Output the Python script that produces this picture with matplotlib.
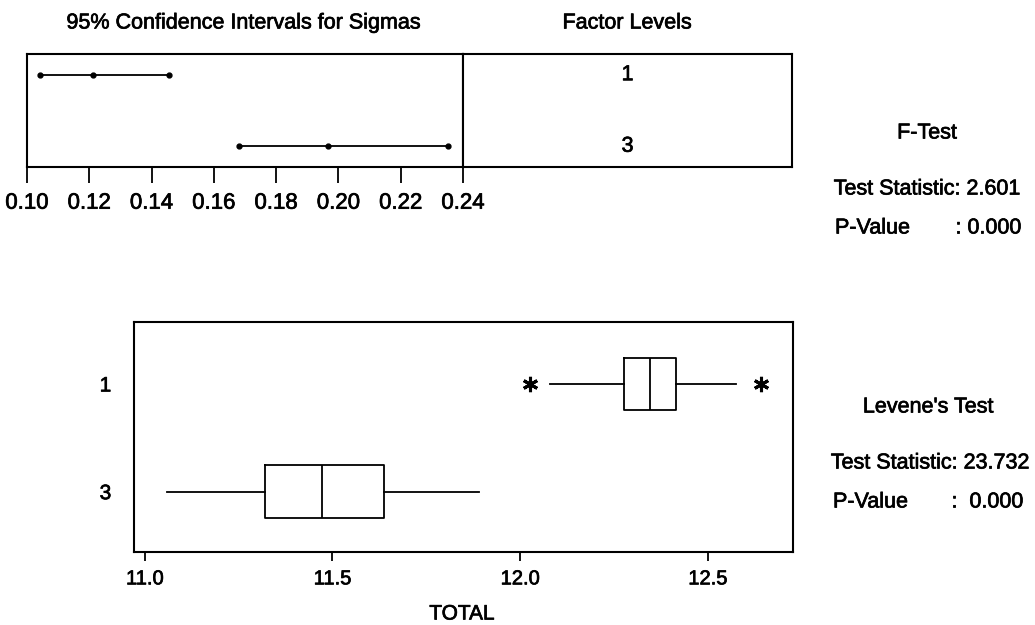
import matplotlib
matplotlib.use("Agg")
import matplotlib.pyplot as plt
import matplotlib.patheffects as pe

plt.rcParams['font.family'] = ['Liberation Sans', 'DejaVu Sans']

# ---- data -------------------------------------------------------------
levels = ["1", "3"]

# 95% confidence intervals for sigma (lower, estimate, upper)
sigma_lower = [0.1043, 0.1682]
sigma_est = [0.1212, 0.1968]
sigma_upper = [0.1455, 0.2353]
ci_ticks = [0.10, 0.12, 0.14, 0.16, 0.18, 0.20, 0.22, 0.24]
ci_tick_labels = ["0.10", "0.12", "0.14", "0.16", "0.18", "0.20", "0.22", "0.24"]

# Boxplot summary of TOTAL by factor level
box_whislo = [12.080, 11.059]
box_q1 = [12.277, 11.321]
box_med = [12.347, 11.471]
box_q3 = [12.416, 11.638]
box_whishi = [12.575, 11.890]
box_fliers = [[12.027, 12.643], []]
total_ticks = [11.0, 11.5, 12.0, 12.5]
total_tick_labels = ["11.0", "11.5", "12.0", "12.5"]

f_stat, f_p = 2.601, 0.000
lev_stat, lev_p = 23.732, 0.000

# ---- layout helpers ---------------------------------------------------
W, H = 1035, 625
fig = plt.figure(figsize=(W / 100, H / 100), dpi=100)
fig.patch.set_facecolor("white")

# slightly heavier glyph strokes, like the printed Minitab output
TEXT_FX = [pe.withStroke(linewidth=0.5, foreground="black")]


def rect(x0, y0, x1, y1):
    return [x0 / W, 1 - y1 / H, (x1 - x0) / W, (y1 - y0) / H]


def ftext(x, y, s, **kw):
    kw.setdefault("ha", "center")
    kw.setdefault("va", "center")
    kw.setdefault("fontsize", 15.5)
    fig.text(x / W, 1 - y / H, s, color="black", path_effects=TEXT_FX, **kw)


def heavy_ticklabels(ax):
    for lab in ax.get_xticklabels() + ax.get_yticklabels():
        lab.set_path_effects(TEXT_FX)


SPINE_LW = 1.5
LINE_LW = 1.3

# ---- confidence intervals panel ---------------------------------------
ax_ci = fig.add_axes(rect(27, 54, 463, 167))
for i, (lo, est, hi) in enumerate(zip(sigma_lower, sigma_est, sigma_upper)):
    ax_ci.plot([lo, est, hi], [i, i, i], color="black", lw=LINE_LW,
               marker="o", ms=3.5, mfc="black", mec="black")
ax_ci.set_xlim(0.10, 0.24)
ax_ci.set_ylim(1.29, -0.29)
ax_ci.set_yticks([])
ax_ci.set_xticks(ci_ticks, ci_tick_labels)
ax_ci.tick_params(axis="x", direction="out", length=11.5, width=1.3,
                  pad=7, labelsize=16)
heavy_ticklabels(ax_ci)
for sp in ax_ci.spines.values():
    sp.set_linewidth(SPINE_LW)

# ---- factor level panel -----------------------------------------------
ax_fl = fig.add_axes(rect(463, 54, 792, 167))
ax_fl.set_xlim(0, 1)
ax_fl.set_ylim(1.29, -0.29)
ax_fl.set_xticks([])
ax_fl.set_yticks([])
for i, lev in enumerate(levels):
    ax_fl.text(0.5, i, lev, ha="center", va="center", fontsize=15.5,
               path_effects=TEXT_FX)
for sp in ax_fl.spines.values():
    sp.set_linewidth(SPINE_LW)

ftext(243, 23, "95% Confidence Intervals for Sigmas")
ftext(627, 23, "Factor Levels")

# ---- boxplot panel ----------------------------------------------------
ax_box = fig.add_axes(rect(133.5, 321.7, 793, 552))
stats = []
for i in range(len(levels)):
    stats.append(dict(med=box_med[i], q1=box_q1[i], q3=box_q3[i],
                      whislo=box_whislo[i], whishi=box_whishi[i],
                      fliers=box_fliers[i], label=levels[i]))
common = dict(positions=[0, 1], widths=0.49, showcaps=False,
              boxprops=dict(color="black", lw=LINE_LW),
              medianprops=dict(color="black", lw=LINE_LW),
              whiskerprops=dict(color="black", lw=LINE_LW),
              flierprops=dict(marker=(6, 2, 0), ms=11, mec="black",
                              mew=2.2, linestyle="none"))
try:
    ax_box.bxp(stats, orientation="horizontal", **common)
except TypeError:
    ax_box.bxp(stats, vert=False, **common)
ax_box.set_xlim(10.970, 12.727)
ax_box.set_ylim(1.56, -0.578)
ax_box.set_yticks([0, 1], levels)
ax_box.tick_params(axis="y", length=0, pad=16, labelsize=15)
ax_box.set_xticks(total_ticks, total_tick_labels)
ax_box.tick_params(axis="x", direction="out", length=6.5, width=1.3,
                   pad=6, labelsize=14.5)
heavy_ticklabels(ax_box)
for sp in ax_box.spines.values():
    sp.set_linewidth(SPINE_LW)

ftext(462, 614, "TOTAL", fontsize=15)

# ---- test results -----------------------------------------------------
ftext(927, 133, "F-Test")
ftext(927, 189, f"Test Statistic: {f_stat:.3f}")
ftext(835, 228, "P-Value", ha="left")
ftext(1022, 228, f": {f_p:.3f}", ha="right")

ftext(928, 407, "Levene's Test")
ftext(930, 463, f"Test Statistic: {lev_stat:.3f}")
ftext(833, 502, "P-Value", ha="left")
ftext(1024, 502, f":  {lev_p:.3f}", ha="right")

fig.savefig("out.png", dpi=100, facecolor="white")
